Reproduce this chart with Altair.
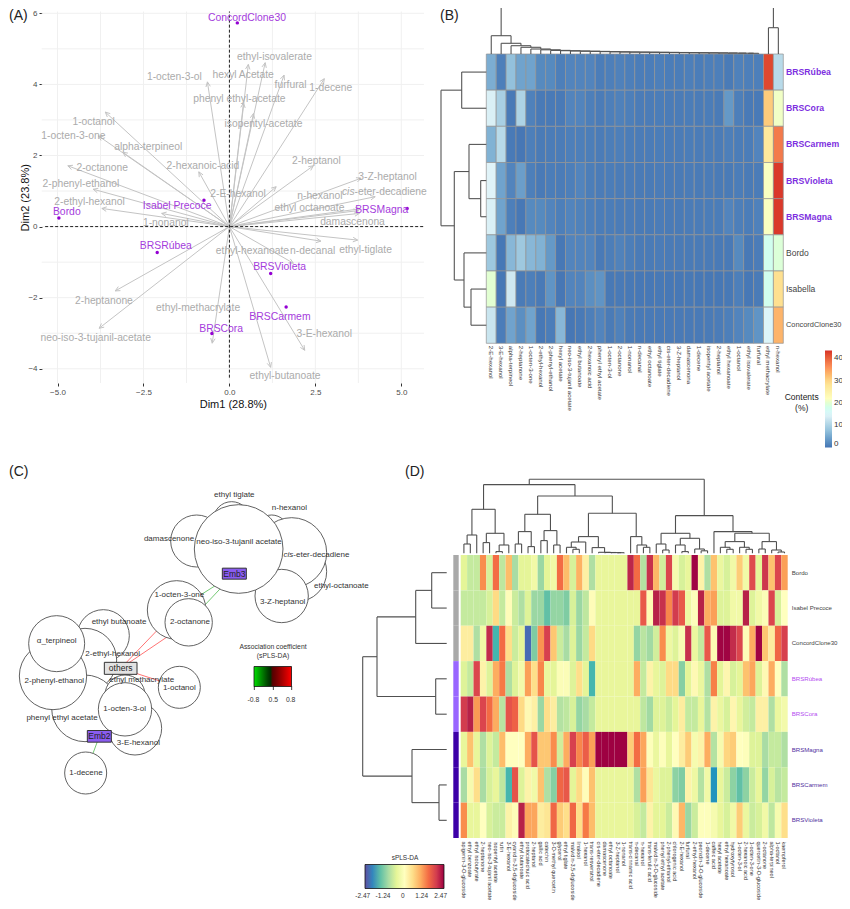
import math
import altair as alt
import pandas as pd

W, H = 834, 893
FONT = "Liberation Sans"

def px(v):
    return v - 8

def lin(lo, hi, a, b):
    return alt.Scale(domain=[lo, hi], range=[px(a), px(b)], nice=False, zero=False)

def segs(rows, xs, ys, color, width=1.0, dash=None, xaxis=None, yaxis=None):
    df = pd.DataFrame(rows, columns=["x", "y", "x2", "y2"])
    kw = dict(color=color, strokeWidth=width)
    if dash:
        kw["strokeDash"] = dash
    return alt.Chart(df).mark_rule(**kw).encode(
        x=alt.X("x:Q", scale=xs, axis=xaxis), y=alt.Y("y:Q", scale=ys, axis=yaxis),
        x2=alt.X2("x2"), y2=alt.Y2("y2"))

def txt(rows, xs, ys, size, color, align="center", **kw):
    df = pd.DataFrame(rows, columns=["label", "x", "y"])
    return alt.Chart(df).mark_text(font=FONT, fontSize=size, color=color, align=align,
                                   baseline="middle", **kw).encode(
        x=alt.X("x:Q", scale=xs, axis=None), y=alt.Y("y:Q", scale=ys, axis=None), text="label:N")

def tree(node, out):
    if isinstance(node, int):
        return node + 0.5, 0.0
    h, a, b = node
    pa, ha = tree(a, out)
    pb, hb = tree(b, out)
    out += [(pa, h, pb, h), (pa, h, pa, ha), (pb, h, pb, hb)]
    return (pa + pb) / 2, h

# ---------------- panel A: PCA biplot ----------------
A_x_grid = [-5, -3.75, -2.5, -1.25, 0, 1.25, 2.5, 3.75, 5]
A_y_grid = [-4, -3, -2, -1, 0, 1, 2, 3, 4, 5, 6]
A_vars = [
    ("ethyl-isovalerate", 0.55, 4.56, 1.31, 4.78), ("hexyl  Acetate", 1.04, 4.61, 0.40, 4.25),
    ("furfural", 1.59, 4.26, 1.78, 3.98), ("1-decene", 2.76, 4.16, 2.95, 3.89),
    ("1-octen-3-ol", -0.64, 4.07, -1.60, 4.22), ("phenyl  ethyl-acetate", 0.41, 3.48, 0.29, 3.60),
    ("isopentyl-acetate", 0.70, 3.18, 0.99, 2.89), ("1-octanol", -3.61, 3.22, -3.95, 2.93),
    ("1-octen-3-one", -3.81, 2.55, -4.54, 2.55), ("alpha-terpineol", -3.10, 2.09, -2.36, 2.25),
    ("2-octanone", -4.70, 1.71, -3.70, 1.66), ("2-hexanoic-acid", -0.89, 1.54, -0.77, 1.69),
    ("2-heptanol", 2.44, 1.71, 2.53, 1.84), ("2-E-hexanol", 1.36, 1.12, 0.25, 0.92),
    ("3-Z-heptanol", 3.83, 1.36, 4.60, 1.40), ("n-hexanol", 3.80, 0.50, 2.63, 0.85),
    ("ethyl  octanoate", 3.75, 0.45, 2.33, 0.51), ("damascenona", 3.78, 0.37, 3.58, 0.13),
    ("2-phenyl-ethanol", -3.96, 1.05, -4.32, 1.19), ("2-ethyl-hexanol", -3.71, 0.51, -4.07, 0.69),
    ("1-nonanol", -1.97, 0.37, -1.85, 0.10), ("ethyl-hexanoate", 2.66, -0.41, 0.67, -0.69),
    ("ethyl-tiglate", 3.73, -0.38, 3.96, -0.67), ("n-decanal", 1.86, -1.03, 2.42, -0.69),
    ("2-heptanone", -3.32, -1.81, -3.65, -2.10), ("neo-iso-3-tujanil-acetate", -3.79, -2.86, -3.89, -3.13),
    ("ethyl-methacrylate", -0.50, -3.28, -0.91, -2.29), ("ethyl-butanoate", 1.20, -3.96, 1.62, -4.20),
    ("3-E-hexanol", 2.19, -3.48, 2.76, -3.01),
]
A_cis_tip = (4.24, 0.84)
A_cis_label = (3.64, 0.96)
A_samples = [
    ("ConcordClone30", 0.23, 5.73, 0.51, 5.88), ("Isabel Precoce", -0.74, 0.74, -1.52, 0.58),
    ("Bordo", -4.96, 0.24, -4.73, 0.40), ("BRSMagna", 5.17, 0.51, 4.43, 0.47),
    ("BRSRúbea", -2.10, -0.73, -1.85, -0.56), ("BRSVioleta", 1.20, -1.32, 1.46, -1.15),
    ("BRSCarmem", 1.65, -2.26, 1.47, -2.53), ("BRSCora", -0.51, -3.01, -0.24, -2.87),
]
ax = lin(-5.46, 5.66, 41.7, 424)
ay = lin(-4.4, 6.05, 383, 11.5)
XL, XR, YB, YT = -5.46, 5.66, -4.4, 6.05
layers = []
x_axis = alt.Axis(orient="bottom", offset=px(383) - H, values=[-5, -2.5, 0, 2.5, 5], format=".1f", grid=False,
                  domain=False, tickColor="#333333", tickSize=3, labelColor="#4d4d4d", labelFontSize=8, labelFont=FONT,
                  labelPadding=2, title="Dim1 (28.8%)", titleFont=FONT, titleFontSize=11, titleFontWeight="normal",
                  titleColor="#111111", titlePadding=2)
y_axis = alt.Axis(orient="left", offset=-px(42), values=[-4, -2, 0, 2, 4, 6], format="d", grid=False,
                  domain=False, tickColor="#333333", tickSize=3, labelColor="#4d4d4d", labelFontSize=8, labelFont=FONT,
                  labelPadding=2, title="Dim2 (23.8%)", titleFont=FONT, titleFontSize=11, titleFontWeight="normal",
                  titleColor="#111111", titlePadding=-3)
layers.append(segs([(v, YB, v, YT) for v in A_x_grid], ax, ay, "#f0f0f0", 1, xaxis=x_axis, yaxis=y_axis))
layers.append(segs([(XL, v, XR, v) for v in A_y_grid], ax, ay, "#f0f0f0", 1))
arrows = []
for name, x, y, lx, ly in A_vars + [("cis", A_cis_tip[0], A_cis_tip[1], 0, 0)]:
    arrows.append((0, 0, x, y))
    ang = math.atan2(y, x)
    for d in (2.7, -2.7):
        arrows.append((x, y, x + 0.15 * math.cos(ang + d), y + 0.15 * math.sin(ang + d)))
layers.append(segs(arrows, ax, ay, "#c4c4c4", 1))
layers.append(segs([(XL + 0.1, 0, XR, 0)], ax, ay, "#222222", 1, dash=[3, 2]))
layers.append(segs([(0, YB + 0.15, 0, YT)], ax, ay, "#222222", 1, dash=[3, 2]))
layers.append(txt([(n, lx, ly) for n, _, _, lx, ly in A_vars], ax, ay, 10.3, "#ababab"))
layers.append(txt([("cis", *A_cis_label)], ax, ay, 10.3, "#ababab", align="right", fontStyle="italic"))
layers.append(txt([("-eter-decadiene", *A_cis_label)], ax, ay, 10.3, "#ababab", align="left"))
df_pts = pd.DataFrame(A_samples, columns=["label", "x", "y", "lx", "ly"])
layers.append(alt.Chart(df_pts).mark_point(filled=True, size=12, color="#9400d3", opacity=1).encode(
    x=alt.X("x:Q", scale=ax, axis=None), y=alt.Y("y:Q", scale=ay, axis=None)))
layers.append(txt([(n, lx, ly) for n, _, _, lx, ly in A_samples], ax, ay, 10.4, "#a43bdc"))

# ---------------- panel B: heatmap ----------------
B_rows = ["BRSRúbea", "BRSCora", "BRSCarmem", "BRSVioleta", "BRSMagna", "Bordo", "Isabella", "ConcordClone30"]
B_cols = ["2-E-hexanol", "3-E-hexanol", "alpha-terpineol", "2-heptanone", "1-octen-3-one", "2-ethyl-hexanol",
          "2-phenyl-ethanol", "hexyl acetate", "neo-iso-3-tujanil acetate", "ethyl butanoate", "2-hexanoic acid",
          "phenyl ethyl acetate", "1-octen-3-ol", "2-octanone", "1-nonanol", "n-decanal", "ethyl octanoate",
          "ethyl tiglate", "cis-eter-decadiene", "3-Z-heptanol", "damascenona", "1-decene", "isopentyl acetate",
          "2-heptanol", "ethyl hexanoate", "1-octanol", "ethyl isovalerate", "furfural", "ethyl methacrylate", "n-hexanol"]
B_values = [
    [5.5, 1.0, 7.5, 4.5, 4.5, 2, 2, 1, 1.5, 1.5, 1.5, 0.8, 1, 1.2, 1, 0.8, 0.8, 1, 0.8, 0.8, 1, 0.8, 1, 1, 0.6, 1.2, 1, 1, 42, 11],
    [14, 9.5, 0.5, 10, 1.2, 0.5, 0.5, 0.5, 1.5, 1.5, 1, 0.7, 1, 1.2, 1, 0.7, 0.7, 0.8, 0.7, 0.7, 0.8, 0.7, 0.8, 0.6, 3.5, 1, 0.5, 0.5, 31, 21],
    [6, 11, 0.5, 0.2, 1, 0.6, 0.7, 0.7, 1, 1, 0.9, 0.7, 0.9, 1, 0.8, 0.7, 0.7, 0.8, 0.7, 0.7, 0.8, 0.7, 0.8, 0.7, 1, 0.8, 0.8, 1.5, 27, 38],
    [14.5, 4.5, 1.5, 4, 1, 0.5, 0.8, 0.7, 1, 1.5, 0.9, 0.7, 0.8, 0.7, 0.7, 0.6, 0.6, 0.7, 0.6, 0.6, 0.7, 0.6, 0.7, 0.6, 0.6, 0.8, 0.6, 0.7, 21.5, 43],
    [14, 4.5, 1, 0.3, 2, 2, 1.5, 1, 1.5, 1.3, 1, 0.8, 0.8, 0.7, 0.7, 0.6, 0.6, 0.7, 0.6, 0.6, 0.7, 0.7, 0.8, 0.8, 1.5, 1, 0.8, 1.2, 21.5, 43],
    [8.5, 0.3, 6.5, 8.5, 6.5, 6, 3.5, 0.3, 1.5, 1.5, 1.5, 0.5, 0.9, 1.3, 0.9, 0.6, 0.6, 0.7, 0.6, 0.6, 0.6, 0.6, 0.6, 0.5, 0.5, 2, 0.4, 0.7, 17.5, 19.5],
    [20, 0.3, 13, 0.6, 1, 0.5, 3, 0.2, 1.5, 1.5, 2.5, 3, 0.4, 0.5, 0.4, 0.3, 0.3, 0.4, 0.3, 0.3, 0.4, 0.3, 0.3, 0.3, 0.4, 1, 0.3, 0.6, 17.5, 29],
    [12.5, 0.8, 4.5, 2.5, 4.5, 0.3, 0.8, 6.5, 0.2, 0.5, 1, 1.5, 0.6, 1.2, 0.6, 0.5, 0.5, 0.5, 0.5, 0.5, 0.5, 0.5, 0.6, 0.7, 1, 1.5, 2, 3, 15, 33],
]
B_top_heights = [18.3, 10.7, 8.3, 6.7, 5, 4.2, 3.6, 3.3, 3.0, 2.8, 2.6, 2.4, 2.2, 2.0, 1.9, 1.8, 1.7, 1.6, 1.5,
                 1.4, 1.3, 1.2, 1.1, 1.0, 0.9, 0.8, 0.7]
B_top_root = (46.7, 26.3)
B_left_tree = (45.3, (24.6, 0, 1), (32, (17.3, 2, (5.6, 3, 4)), (22.3, 5, (15.3, 6, 7))))
B_dom = [0, 7.25, 14.5, 21.75, 29, 36.25, 43.5]
B_rng = ["#4575b4", "#91bfdb", "#e0f3f8", "#ffffbf", "#fee090", "#fc8d59", "#d73027"]
bx0, bx1, by0, by1 = 486.3, 783.3, 54, 343.3
df_b = pd.DataFrame([(r, c, B_values[i][j]) for i, r in enumerate(B_rows) for j, c in enumerate(B_cols)],
                    columns=["row", "col", "v"])
layers.append(alt.Chart(df_b).mark_rect(stroke="#949494", strokeWidth=0.7).encode(
    x=alt.X("col:N", sort=B_cols, scale=alt.Scale(domain=B_cols, range=[px(bx0), px(bx1)], paddingInner=0, paddingOuter=0),
            axis=alt.Axis(orient="bottom", offset=px(by1) - H, labelAngle=90, labelAlign="left", labelBaseline="middle",
                          labelFontSize=6.1, labelFont=FONT, labelColor="#333333", ticks=False, domain=False, grid=False,
                          title=None, labelPadding=2, labelOverlap=False, labelLimit=0)),
    y=alt.Y("row:N", sort=B_rows, scale=alt.Scale(domain=B_rows, range=[px(by0), px(by1)], paddingInner=0, paddingOuter=0), axis=None),
    color=alt.Color("v:Q", scale=alt.Scale(domain=B_dom, range=B_rng),
                    legend=alt.Legend(orient="none", legendX=px(825), legendY=px(350.5), title=None,
                                      gradientLength=97, gradientThickness=7, values=[0, 10, 20, 30, 40],
                                      labelFont=FONT, labelFontSize=8, labelColor="#333333", labelOffset=2, direction="vertical")),
))
out = []
node = 27
for i in range(26, -1, -1):
    node = (B_top_heights[i], i, node)
tree((B_top_root[0], node, (B_top_root[1], 28, 29)), out)
layers.append(segs(out, lin(0, 30, bx0, bx1), lin(0, 46.7, 54, 7.3), "#555555", 1.1))
out = []
tree(B_left_tree, out)
layers.append(segs([(h, p, h2, p2) for p, h, p2, h2 in out], lin(0, 45.3, 486.3, 441), lin(0, 8, by0, by1), "#555555", 1.1))
by_scale = lin(0, 8, by0, by1)
bl = lin(0, 100, 786, 886)
layers.append(txt([(r, 0, i + 0.5) for i, r in enumerate(B_rows) if r.startswith("BRS")], bl, by_scale, 8.7, "#7d2fe0", "left", fontWeight="bold"))
layers.append(txt([(r, 0, i + 0.5) for i, r in enumerate(B_rows) if r in ("Bordo", "Isabella")], bl, by_scale, 8.5, "#444444", "left"))
layers.append(txt([("ConcordClone30", 0, 7.5)], bl, by_scale, 7.4, "#444444", "left"))
layers.append(txt([("Contents", 801.7, 396.7), ("(%)", 801.7, 407.7)], lin(0, 850, 0, 850), lin(0, 909, 0, 909), 8.5, "#222222"))

# ---------------- panel C: network ----------------
C_circles = [
    ("ethyl tiglate", 695, 150, 55), ("damascenone", 590, 213, 78), ("n-hexanol", 815, 185, 50),
    ("ethyl-octanoate", 890, 305, 90), ("cis-eter-decadiene", 875, 248, 105), ("3-Z-heptanol", 845, 378, 80),
    ("neo-iso-3-tujanil acetate", 716, 237, 133), ("1-octen-3-one", 530, 420, 88), ("2-octanone", 566, 457, 71),
    ("ethyl butanoate", 310, 497, 78), ("2-ethyl-hexanol", 255, 570, 95), ("phenyl ethyl acetate", 255, 715, 100),
    ("2-phenyl-ethanol", 159, 618, 101), ("alpha_terpineol", 170, 521, 84), ("1-octanol", 538, 652, 63),
    ("ethyl methacrylate", 375, 675, 60), ("3-E-hexanol", 405, 775, 80), ("1-octen-3-ol", 375, 718, 80),
    ("1-decene", 257, 909, 63),
]
C_edges = [
    (362, 595, 530, 420, 0.8), (362, 595, 566, 457, 0.8), (362, 595, 538, 652, 0.8),
    (703, 311, 530, 420, -0.55), (703, 311, 566, 457, -0.55), (298, 799, 257, 909, -0.55),
]
C_labels = [
    ("ethyl tiglate", 703, 75), ("n-hexanol", 868, 115), ("damascenone", 507, 206), ("neo-iso-3-tujanil acetate", 717, 216),
    ("ethyl-octanoate", 1024, 347), ("3-Z-heptanol", 848, 395), ("1-octen-3-one", 538, 375), ("2-octanone", 570, 455),
    ("ethyl butanoate", 357, 457), ("α_terpineol", 170, 513), ("2-ethyl-hexanol", 338, 552), ("2-phenyl-ethanol", 163, 632),
    ("ethyl methacrylate", 425, 630), ("1-octanol", 538, 655), ("1-octen-3-ol", 374, 717), ("phenyl ethyl acetate", 186, 745),
    ("3-E-hexanol", 415, 819), ("1-decene", 258, 910),
]
C_boxes = [("others", 362, 595, 98, 36, "#e2e2e2"), ("Emb3", 703, 311, 72, 33, "#8a5cf0"), ("Emb2", 298, 799, 72, 35, "#8a5cf0")]
cx = lin(0, 1110, 0, 370)
cy = lin(0, 1020, 470, 810)
df_e = pd.DataFrame(C_edges, columns=["x", "y", "x2", "y2", "v"])
layers.append(alt.Chart(df_e).mark_rule(strokeWidth=1, opacity=0.55).encode(
    x=alt.X("x:Q", scale=cx, axis=None), y=alt.Y("y:Q", scale=cy, axis=None), x2=alt.X2("x2"), y2=alt.Y2("y2"),
    color=alt.Color("v:Q", scale=alt.Scale(domain=[-0.8, 0, 0.8], range=["#00e000", "#000000", "#ff0000"]),
                    legend=alt.Legend(orient="none", legendX=px(254), legendY=px(666.5), title=None, direction="horizontal",
                                      gradientLength=37.5, gradientThickness=20, gradientStrokeColor="#111111", gradientStrokeWidth=0.8,
                                      gradientOpacity=1, values=[-0.8, 0, 0.8], labelExpr="''", labelFontSize=1)),
))
df_c = pd.DataFrame(C_circles, columns=["label", "x", "y", "r"])
df_c["size"] = 4 * (df_c["r"] / 3) ** 2
layers.append(alt.Chart(df_c).mark_point(filled=False, fill="#ffffff", fillOpacity=1, stroke="#505050", strokeWidth=0.9, opacity=1).encode(
    x=alt.X("x:Q", scale=cx, axis=None), y=alt.Y("y:Q", scale=cy, axis=None), size=alt.Size("size:Q", scale=None, legend=None)))
layers.append(txt(C_labels, cx, cy, 8, "#333333"))
layers.append(txt([("cis", 880, 256)], cx, cy, 8, "#333333", align="right", fontStyle="italic"))
layers.append(txt([("-eter-decadiene", 880, 256)], cx, cy, 8, "#333333", align="left"))
df_box = pd.DataFrame(C_boxes, columns=["label", "x", "y", "w", "h", "fill"])
df_box["x0"] = df_box.x - df_box.w / 2
df_box["x1"] = df_box.x + df_box.w / 2
df_box["y0"] = df_box.y - df_box.h / 2
df_box["y1"] = df_box.y + df_box.h / 2
layers.append(alt.Chart(df_box).mark_rect(stroke="#333333", strokeWidth=1).encode(
    x=alt.X("x0:Q", scale=cx, axis=None), x2=alt.X2("x1"), y=alt.Y("y0:Q", scale=cy, axis=None), y2=alt.Y2("y1"),
    fill=alt.Fill("fill:N", scale=None)))
layers.append(txt([(n, x, y) for n, x, y, *_ in C_boxes], cx, cy, 8.5, "#222222"))
layers.append(txt([("Association coefficient", 819, 531), ("(sPLS-DA)", 819, 557),
                   ("-0.8", 760, 689), ("0.5", 820, 689), ("0.8", 872, 689)], cx, cy, 6.8, "#333333"))
layers.append(segs([(763, 648, 763, 660), (820, 648, 820, 660), (875, 648, 875, 660)], cx, cy, "#111111", 0.8))

# ---------------- panel D: clustered heatmap ----------------
D_rows = ["Bordo", "Isabel Precoce", "ConcordClone30", "BRSRúbea", "BRSCora", "BRSMagna", "BRSCarmem", "BRSVioleta"]
D_cols = ["apigenin-3-O-glucoside", "ethyl benzoate", "ethyl isobutyrate", "2-heptanone", "neo-iso-3-tujanil acetate",
          "isopentyl acetate", "rutin", "3-E-hexanol", "cyanidin-3,5-diglucoside", "ethyl butanoate", "protocatechuic acid",
          "2-heptanol", "gallic acid", "catechin", "3-O-methyl quercetin", "glycerol", "ethyl tiglate",
          "malvidin-3,5-diglucoside", "linalool", "1-hexanol", "trans-resveratrol", "cis-eter-decadiene", "damascenone",
          "ethyl octanoate", "3-Z-heptanol", "1-nonanol", "trans-cinnamic acid", "n-decanal", "n-hexanol", "trans-ferulic acid",
          "malvidin-3-O-glucoside", "phenyl ethyl acetate", "2-phenyl-ethanol", "chlorogenic acid", "2-E-hexanol", "furfural",
          "2-ethyl-hexanol", "peonidin-3-O-glucoside", "1-decene", "caffeic acid", "hexyl acetate", "ethyl hexanoate",
          "hydroxytyrosol", "1-octen-3-ol", "2-hexanoic acid", "1-octen-3-one", "quercetin-3-O-glucoside", "2-octanone",
          "alpha-terpineol", "1-octanol", "kaempferol"]
D_base = [-0.45] * 5
D_bordo = [-.5, -.75, -.75, 1.25, -.6, 1.5, -.8, .85, -1, -.5, -.5, -.3, -1.1, -.5, -.3, 1.5, .85, -.6, .95, .25, -.95] + D_base + \
    [2.2, 1.5, -.9, 2.1, .9, -.65, 1.9, -.2, -.6, -.45, 2.45, .2, -.95, .8, -.4, -.6, -.3, .7, -.3, 1.85, -.5, 2.05, .8, 1.9, 1.1]
D_isabel = [-.75, -.75, -.75, -.75, -.6, .55, -.75, .05, -.7, -.95, -.55, -1.1, -1.1, -1.5, -1.15, -1.15, -1.3, -.6, -1.1, -.8, .05] + D_base + \
    [-.45, -.45, 1.7, .1, 2.25, 2.1, 1.3, 2, 1.7, -.35, -.05, 2.25, 1, 1.1, -.55, -.55, -.3, -.3, 2.25, -.55, -.3, -.1, 1.9, -.6, 0]
D_concord = [.3, .3, -.95, -.3, 2.15, -1.6, 1.5, .5, -.7, -.5, -2.25, -1.3, 1.2, 1.95, .75, -.7, -1, -.55, -1.1, -.75, .55] + D_base + \
    [-.45, -1.15, -.85, -1.05, -.65, 1.25, -.35, -.55, -.15, 2.1, -.4, -.75, 1.7, .1, 2.45, 2.45, 2.15, 1.9, .05, 1, 2.45, .75, .3, 1.55, 1.95]
D_rubea = [-.55, -.75, 1.9, .2, -.55, 1, 1.4, -.95, -.55, -.25, 1.1, .5, 1.3, -.4, -.5, -.1, -.1, -.55, .5, -.5, -1.6] + D_base + \
    [-.45, 1, -.75, .2, -.45, -.55, .55, .55, -1.25, -.5, .1, -.4, -.95, 1.35, -.5, .15, -.6, -.5, .8, 1.05, -.55, .1, 1, 0, -.95]
D_cora = [2, 2.25, 1.15, 1.9, 1.5, 1, -.85, 1.75, 1.6, .55, .1, .25, -1.1, .5, .3, -.9, -.8, -.6, -1.15, -1, -.75] + D_base + \
    [-.45, -.45, -.8, -1.05, -.55, -.55, -.7, -.5, .3, -.75, -.75, -.45, -.9, .2, -.4, -.6, .15, -.45, -.65, -.75, .25, .25, -.95, -.4, -.25]
D_magna = [-.45, .8, -.45, -.95, -.55, -.75, .85, 0, 0, 0, 1, 1.75, .75, .75, 1.25, -.65, 1, 1.95, 1.3, 1.65, 1.1] + [2.47] * 5 + \
    [.7, 1.5, 1.05, -.05, -.4, -.05, -.45, 0, .3, .7, -.2, .2, 1, -.9, -.2, .6, .7, 0, -.05, -.55, -.55, -1, -.75, -.75, -.95]
D_carmem = [-1, -.2, .5, -1, -.6, -.45, -.8, -1.6, 1.75, -.55, .2, -.3, .8, -.95, -1.25, 1.55, 1.7, -.5, .55, .05, .8] + D_base + \
    [-.45, -.95, 1.1, .4, -.4, -.55, -.55, -1.2, -1.3, .2, -.35, -.9, -.3, -1.9, -.45, -.7, -1.2, -1.5, -1.2, -.7, -.45, -1.15, -.6, -.85, -.75]
D_violeta = [1.25, -.45, -.45, 0, -.6, -.7, -.7, .2, .05, 2.25, 1.05, 1.05, .3, .4, 1.55, .7, .5, 1.55, .5, 1.4, .85] + D_base + \
    [-.45, -.6, -.75, .2, -.5, -.5, -.7, .1, .9, -1.1, -.7, -.05, -.05, -.2, -.45, -.6, -.3, .7, -.4, -.7, -.6, -.3, -.8, -.2, .5]
D_values = [D_bordo, D_isabel, D_concord, D_rubea, D_cora, D_magna, D_carmem, D_violeta]
D_top_tree = (74,
    (68.7,
        (44,
            (18.3, (9.3, 0, 1), 2),
            (20, (10.7, 3, 4), (8.3, (1.7, 5, 6), 7))),
        (57.3,
            (39,
                (21.7, (9.3, 8, 9), (6.7, 10, 11)),
                (22.7, (12.7, 12, 13), (8.3, 14, 15))),
            (40,
                (16.7,
                    (11.3, (6, 16, (4, 17, 18)), 19),
                    (5.7, 20, (1, 21, (0.8, 22, (0.7, 23, (0.6, 24, 25)))))),
                (16.7, 26, (8.3, 27, (6, 28, 29)))))),
    (37.7,
        (20,
            (9.3, 30, (3.3, 31, 32)),
            (15, (8.3, 33, (1.7, 34, 35)), (4.3, 36, (2.5, 37, 38)))),
        (21.7,
            39,
            (20,
                (11.7, (6, 40, (4, 41, 42)), (6, 43, (4, 44, 45))),
                (11.7, (4.3, 46, 47), (3.3, 48, (1.3, 49, 50)))))))
D_left_tree = (84, (69.7, (31, (15, 0, 1), 2), (11, 3, 4)), (34.7, 5, (7.7, 6, 7)))
D_side_colors = ["#a9a9a9", "#a9a9a9", "#a9a9a9", "#9966ff", "#9966ff", "#3d00a8", "#3d00a8", "#3d00a8"]
D_label_colors = ["#444444", "#444444", "#444444", "#b44cf0", "#b44cf0", "#5030a0", "#5030a0", "#5030a0"]
D_dom = [-2.47, -1.976, -1.482, -0.988, -0.494, 0, 0.494, 0.988, 1.482, 1.976, 2.47]
D_rng = ["#5e4fa2", "#3288bd", "#66c2a5", "#abdda4", "#e6f598", "#ffffbf", "#fee08b", "#fdae61", "#f46d43", "#d53e4f", "#9e0142"]
dx0, dx1, dy0, dy1 = 460.7, 787.7, 555, 838
df_d = pd.DataFrame([(r, c, D_values[i][j]) for i, r in enumerate(D_rows) for j, c in enumerate(D_cols)],
                    columns=["row", "col", "v"])
layers.append(alt.Chart(df_d).mark_rect().encode(
    x=alt.X("col:N", sort=D_cols, scale=alt.Scale(domain=D_cols, range=[px(dx0), px(dx1)], paddingInner=0, paddingOuter=0),
            axis=alt.Axis(orient="bottom", offset=px(dy1) - H, labelAngle=90, labelAlign="left", labelBaseline="middle",
                          labelFontSize=5.5, labelFont=FONT, labelColor="#333333", ticks=False, domain=False, grid=False,
                          title=None, labelPadding=3, labelOverlap=False, labelLimit=0)),
    y=alt.Y("row:N", sort=D_rows, scale=alt.Scale(domain=D_rows, range=[px(dy0), px(dy1)], paddingInner=0, paddingOuter=0), axis=None),
    color=alt.Color("v:Q", scale=alt.Scale(domain=D_dom, range=D_rng),
                    legend=alt.Legend(orient="none", legendX=px(365), legendY=px(855), title="sPLS-DA", titleFont=FONT,
                                      titleFontSize=6.5, titleFontWeight="normal", titleColor="#333333", titleAnchor="middle", titlePadding=3,
                                      direction="horizontal", gradientLength=79, gradientThickness=24,
                                      gradientStrokeColor="#111111", gradientStrokeWidth=0.8,
                                      values=[-2.47, -1.24, 0, 1.24, 2.47], labelExpr="''", labelFontSize=1)),
))
layers.append(txt([("-2.47", 362.7, 896), ("-1.24", 383, 896), ("0", 402.7, 896), ("1.24", 421.7, 896), ("2.47", 440.7, 896)],
                  lin(0, 850, 0, 850), lin(0, 909, 0, 909), 6.5, "#333333"))
out = []
tree(D_top_tree, out)
layers.append(segs(out, lin(0, 51, dx0, dx1), lin(0, 74, 553.3, 479.3), "#505050", 1.1))
out = []
tree(D_left_tree, out)
layers.append(segs([(h, p, h2, p2) for p, h, p2, h2 in out], lin(0, 84, 446.7, 362.7), lin(0, 8, dy0, dy1), "#505050", 1.1))
dy_scale = lin(0, 8, dy0, dy1)
side = pd.DataFrame({"y": list(range(8)), "y2": [i + 1 for i in range(8)], "c": D_side_colors, "x": [0] * 8, "x2": [1] * 8})
layers.append(alt.Chart(side).mark_rect().encode(
    x=alt.X("x:Q", scale=lin(0, 1, 453.3, 458.7), axis=None), x2=alt.X2("x2"),
    y=alt.Y("y:Q", scale=dy_scale, axis=None), y2=alt.Y2("y2"), fill=alt.Fill("c:N", scale=None)))
dl = lin(0, 100, 791.7, 891.7)
for col in sorted(set(D_label_colors)):
    layers.append(txt([(r, 0, i + 0.5) for i, r in enumerate(D_rows) if D_label_colors[i] == col], dl, dy_scale, 6.1, col, "left"))

# ---------------- panel tags ----------------
tags = [("(A)", 9, 16), ("(B)", 440, 16), ("(C)", 9, 472), ("(D)", 405, 472)]
tx = lin(0, 850, 0, 850)
ty = lin(0, 909, 0, 909)
layers.append(txt(tags, tx, ty, 14, "#222222", "left"))

chart = alt.layer(*layers).resolve_scale(x="independent", y="independent", color="independent").resolve_axis(
    x="independent", y="independent").resolve_legend(color="independent").properties(
    width=W, height=H, padding=0, autosize=alt.AutoSizeParams(type="none"), background="white").configure_view(stroke=None)
chart.save("out.html", embed_options={"renderer": "svg", "actions": False})
